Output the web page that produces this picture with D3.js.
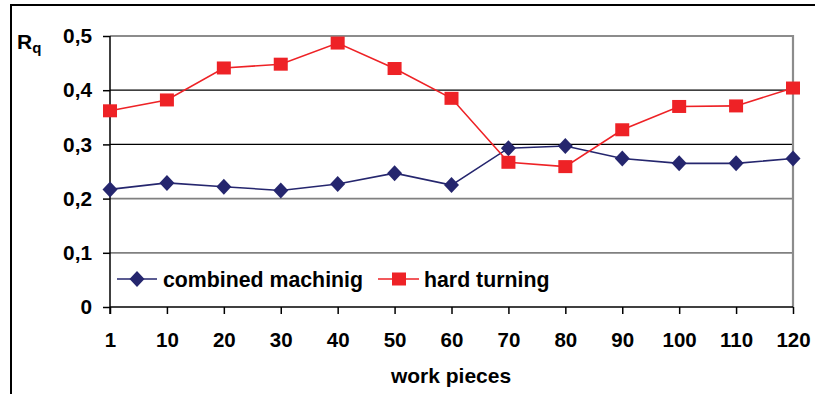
<!DOCTYPE html>
<html>
<head>
<meta charset="utf-8">
<script src="https://cdn.jsdelivr.net/npm/d3@7"></script>
<style>
  body { margin: 0; background: #fff; }
  text { font-family: "Liberation Sans", Arial, sans-serif; font-weight: bold; }
</style>
</head>
<body>
<svg id="chart" width="815" height="394"></svg>
<script>
const workPieces = ["1", "10", "20", "30", "40", "50", "60", "70", "80", "90", "100", "110", "120"];
const combinedMachining = [0.217, 0.229, 0.222, 0.215, 0.227, 0.247, 0.225, 0.293, 0.297, 0.274, 0.265, 0.265, 0.274];
const hardTurning = [0.362, 0.382, 0.441, 0.448, 0.487, 0.440, 0.385, 0.267, 0.259, 0.327, 0.370, 0.371, 0.404];
const yTicks = [0, 0.1, 0.2, 0.3, 0.4, 0.5];

const svg = d3.select("#chart");
const plotLeft = 110, plotRight = 793, plotTop = 36, plotBottom = 307;
const navy = "#25266e";
const red = "#ee2226";

const x = d3.scalePoint().domain(workPieces).range([plotLeft, plotRight]).padding(0);
const y = d3.scaleLinear().domain([0, 0.5]).range([plotBottom, plotTop]);
const fmt = d => d === 0 ? "0" : d3.format(".1f")(d).replace(".", ",");

// outer frame (top and left only)
svg.append("path")
    .attr("d", "M11,394 V5 H815")
    .attr("fill", "none")
    .attr("stroke", "#000")
    .attr("stroke-width", 2);

// gridlines
const grid = svg.append("g");
yTicks.filter(d => d > 0 && d < 0.5).forEach(d => {
    grid.append("line")
        .attr("x1", plotLeft).attr("x2", plotRight)
        .attr("y1", y(d)).attr("y2", y(d))
        .attr("stroke", d >= 0.3 ? "#000" : "#808080")
        .attr("stroke-width", d >= 0.3 ? 1.2 : 1.8);
});

// plot frame top and right
svg.append("path")
    .attr("d", `M${plotLeft},${y(0.5)} H${plotRight} V${plotBottom}`)
    .attr("fill", "none")
    .attr("stroke", "#8c8c8c")
    .attr("stroke-width", 2.2);

// y axis
const yAxis = svg.append("g")
    .attr("transform", `translate(${plotLeft},0)`)
    .call(d3.axisLeft(y).tickValues(yTicks).tickFormat(fmt).tickSize(7).tickPadding(11));
yAxis.select(".domain").attr("stroke", "#000").attr("stroke-width", 1.5)
    .attr("d", `M0,${plotTop}V${plotBottom + 7}`);
yAxis.selectAll(".tick line").attr("stroke", "#000").attr("stroke-width", 1.5);
yAxis.selectAll(".tick text").attr("font-size", 20.8).attr("fill", "#000")
    .attr("font-family", "'Liberation Sans', Arial, sans-serif").attr("font-weight", "bold");

// x axis
const xAxis = svg.append("g")
    .attr("transform", `translate(0,${plotBottom})`)
    .call(d3.axisBottom(x).tickSize(7).tickPadding(18));
xAxis.select(".domain").attr("stroke", "#000").attr("stroke-width", 1.5)
    .attr("d", `M${plotLeft},0H${plotRight}`);
xAxis.selectAll(".tick line").attr("stroke", "#000").attr("stroke-width", 1.5);
xAxis.selectAll(".tick text").attr("font-size", 20.5).attr("fill", "#000")
    .attr("font-family", "'Liberation Sans', Arial, sans-serif").attr("font-weight", "bold");

// axis titles
svg.append("text")
    .attr("x", 451).attr("y", 383)
    .attr("text-anchor", "middle")
    .attr("font-size", 21)
    .text("work pieces");

const rq = svg.append("text")
    .attr("x", 17).attr("y", 49)
    .attr("font-size", 21)
    .text("R");
rq.append("tspan").attr("font-size", 15).attr("dy", 4).text("q");

// series
const line = d3.line().x((d, i) => x(workPieces[i])).y(d => y(d));

function diamond(g, cx, cy) {
    g.append("path")
        .attr("d", `M${cx},${cy - 8}L${cx + 7.5},${cy}L${cx},${cy + 8}L${cx - 7.5},${cy}Z`)
        .attr("fill", navy);
}
function square(g, cx, cy) {
    g.append("rect")
        .attr("x", cx - 7).attr("y", cy - 6.5)
        .attr("width", 14).attr("height", 13)
        .attr("fill", red);
}

const blue = svg.append("g");
blue.append("path")
    .datum(combinedMachining)
    .attr("d", line)
    .attr("fill", "none")
    .attr("stroke", navy)
    .attr("stroke-width", 1.6);

const redG = svg.append("g");
redG.append("path")
    .datum(hardTurning)
    .attr("d", line)
    .attr("fill", "none")
    .attr("stroke", red)
    .attr("stroke-width", 1.6);

combinedMachining.forEach((d, i) => diamond(blue, x(workPieces[i]), y(d)));
hardTurning.forEach((d, i) => square(redG, x(workPieces[i]), y(d)));

// legend
const legend = svg.append("g");
const legY = 279;
legend.append("line").attr("x1", 117).attr("x2", 157).attr("y1", legY).attr("y2", legY)
    .attr("stroke", navy).attr("stroke-width", 1.6);
diamond(legend, 137, legY);
legend.append("text").attr("x", 163).attr("y", legY + 7.5).attr("font-size", 21.3).text("combined machinig");

legend.append("line").attr("x1", 378).attr("x2", 419).attr("y1", legY).attr("y2", legY)
    .attr("stroke", red).attr("stroke-width", 1.6);
square(legend, 399, legY);
legend.append("text").attr("x", 424).attr("y", legY + 7.5).attr("font-size", 21.3).text("hard turning");
</script>
</body>
</html>
